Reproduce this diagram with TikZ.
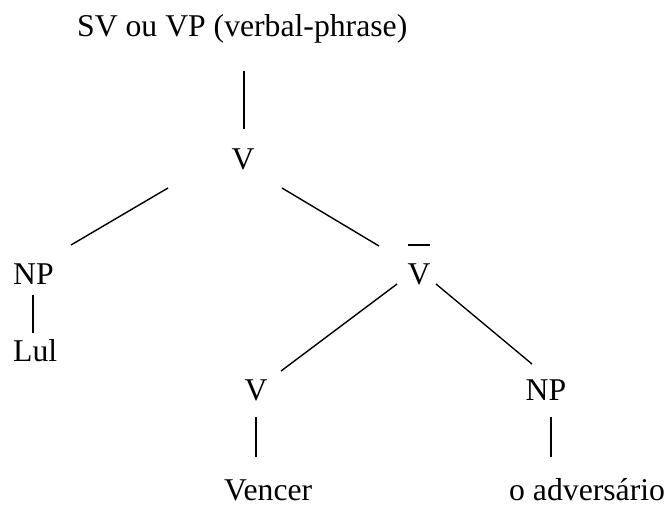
\documentclass[tikz,border=0pt]{standalone}
\usepackage{fontspec}
\setmainfont{Liberation Serif}
\usetikzlibrary{calc}
\begin{document}
\begin{tikzpicture}[x=1pt,y=-1pt,
  lbl/.style={inner sep=0pt,font=\fontsize{31.7}{38}\selectfont},
  branch/.style={line width=1.4pt,line cap=butt}]
\useasboundingbox (0,0) rectangle (667,505);

% labels of the tree
\node[lbl,anchor=base west] (sv)     at (77,37)   {SV ou VP (verbal-phrase)};
\node[lbl,anchor=base]      (vtop)   at (243,170) {V};
\node[lbl,anchor=base west] (np1)    at (13,285)  {NP};
\node[lbl,anchor=base west] (lul)    at (13,361)  {Lul};
\node[lbl,anchor=base]      (vbar)   at (419,284) {V};
\node[lbl,anchor=base]      (v2)     at (256,400) {V};
\node[lbl,anchor=base]      (np2)    at (546,400) {NP};
\node[lbl,anchor=base west] (vencer) at (224,500) {Vencer};
\node[lbl,anchor=base west] (adv)    at (509,500) {o adversário};

% bar over the intermediate V
\draw[branch] ($(vbar.base)+(-11,-39)$) -- ($(vbar.base)+(11,-39)$);

% branch end points
\coordinate (svB)    at (244,71);
\coordinate (vtopA)  at (244,129);
\coordinate (vtopL)  at (168,188);
\coordinate (np1T)   at (71,245);
\coordinate (vtopR)  at (282,188);
\coordinate (vbarT)  at (379,246);
\coordinate (np1B)   at (33,295);
\coordinate (lulT)   at (33,333);
\coordinate (vbarL)  at (397,284);
\coordinate (v2T)    at (281,371);
\coordinate (vbarR)  at (436,284);
\coordinate (np2T)   at (532,364);
\coordinate (v2B)    at (256,417);
\coordinate (vencT)  at (256,457);
\coordinate (np2B)   at (551,417);
\coordinate (advT)   at (551,457);

% branches
\draw[branch] (svB)   -- (vtopA);
\draw[branch] (vtopL) -- (np1T);
\draw[branch] (vtopR) -- (vbarT);
\draw[branch] (np1B)  -- (lulT);
\draw[branch] (vbarL) -- (v2T);
\draw[branch] (vbarR) -- (np2T);
\draw[branch] (v2B)   -- (vencT);
\draw[branch] (np2B)  -- (advT);
\end{tikzpicture}
\end{document}
